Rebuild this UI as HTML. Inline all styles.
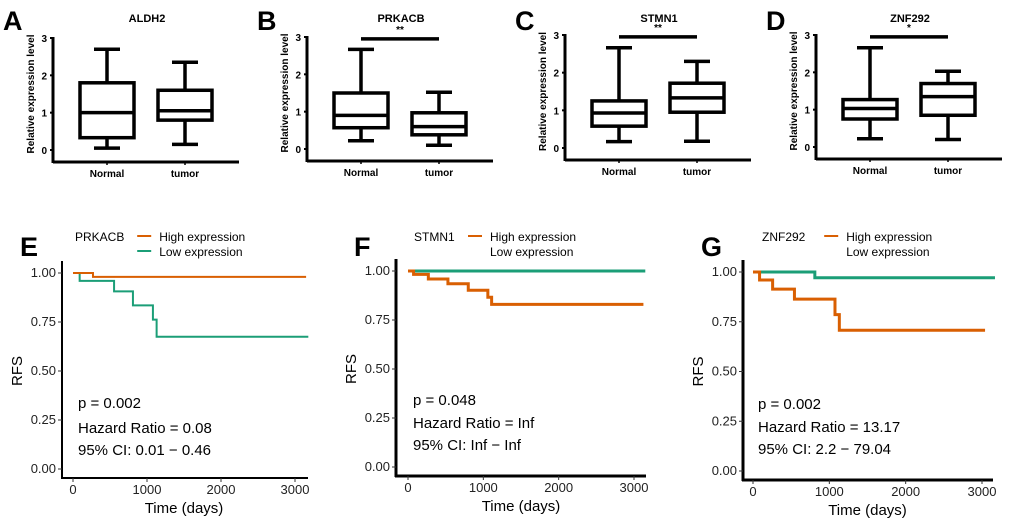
<!DOCTYPE html>
<html><head><meta charset="utf-8">
<style>
html,body{margin:0;padding:0;background:#fff;}
svg{display:block;font-family:"Liberation Sans",Arial,sans-serif;}
</style></head>
<body>
<svg id="fig" width="1010" height="523" viewBox="0 0 1010 523" xmlns="http://www.w3.org/2000/svg"></svg>
<script>
// ---- Box plot data ----
const boxGenes = ["ALDH2","PRKACB","STMN1","ZNF292"];
const boxLetters = ["A","B","C","D"];
const boxGroups = ["Normal","tumor"];
const boxSig = ["","**","**","*"];
// [min, q1, median, q3, max]
const normalStats = [[0.05,0.33,1.0,1.8,2.7],[0.22,0.57,0.9,1.5,2.67],[0.17,0.58,0.93,1.25,2.66],[0.22,0.75,1.03,1.27,2.66]];
const tumorStats = [[0.15,0.8,1.05,1.6,2.35],[0.1,0.38,0.6,0.97,1.52],[0.18,0.95,1.33,1.72,2.3],[0.2,0.85,1.35,1.7,2.03]];
const boxTicks = [0,1,2,3];

// ---- KM data ----
const kmGenes = ["PRKACB","STMN1","ZNF292"];
const kmLetters = ["E","F","G"];
const highTimes = [[0,270,3150],[0,74,270,530,800,1060,1110,3125],[0,86,257,543,1074,1131,3040]];
const highSurv = [[1,0.98,0.98],[1,0.983,0.959,0.935,0.902,0.866,0.83,0.83],[1,0.96,0.914,0.864,0.786,0.707,0.707]];
const lowTimes = [[0,90,555,810,1080,1130,3180],[0,3150],[0,810,3170]];
const lowSurv = [[1,0.96,0.906,0.835,0.762,0.675,0.675],[1,1],[1,0.971,0.971]];
const kmP = ["p = 0.002","p = 0.048","p = 0.002"];
const kmHR = ["Hazard Ratio = 0.08","Hazard Ratio = Inf","Hazard Ratio = 13.17"];
const kmCI = ["95% CI: 0.01 \u2212 0.46","95% CI: Inf \u2212 Inf","95% CI: 2.2 \u2212 79.04"];
const kmYTicks = [0,0.25,0.5,0.75,1.0];
const kmYLabels = ["0.00","0.25","0.50","0.75","1.00"];
const kmXTicks = [0,1000,2000,3000];

const NS="http://www.w3.org/2000/svg";
const svg=document.getElementById('fig');
function mk(tag,attrs,parent){const e=document.createElementNS(NS,tag);for(const k in attrs)e.setAttribute(k,attrs[k]);(parent||svg).appendChild(e);return e;}
function txt(s,attrs,parent){const e=mk('text',attrs,parent);e.textContent=s;return e;}

// Box panels layout
const boxAxisX=[53,307,565,816];
const boxY3=[38,37,35,35], boxY0=[150,149,148,147];
boxGenes.forEach((g,i)=>{
  const grp=mk('g',{});
  
  
  const ax=boxAxisX[i];
  const y=v=>boxY0[i]+(boxY3[i]-boxY0[i])*v/3;
  const lt=txt(boxLetters[i],{x:ax-50,y:30,'font-size':27,'font-weight':'bold'},grp);
  
  const tt=txt(g,{x:ax+94,y:22,'font-size':11,'font-weight':'bold','text-anchor':'middle'},grp);
  
  const yl=txt('Relative expression level',{x:0,y:0,'font-size':10,'font-weight':'bold','text-anchor':'middle',transform:`translate(${ax-19},${(boxY0[i]+boxY3[i])/2}) rotate(-90)`},grp);
  
  mk('line',{x1:ax,y1:boxY3[i]-1,x2:ax,y2:boxY0[i]+13,stroke:'#000','stroke-width':3},grp);
  mk('line',{x1:ax,y1:boxY0[i]+12,x2:ax+186,y2:boxY0[i]+12,stroke:'#000','stroke-width':3},grp);
  boxTicks.forEach(t=>{
    mk('line',{x1:ax-3,y1:y(t),x2:ax,y2:y(t),stroke:'#000','stroke-width':2},grp);
    const tl=txt(String(t),{x:ax-6,y:y(t)+4,'font-size':10,'font-weight':'bold','text-anchor':'end'},grp);
    
  });
  const centers=[ax+54,ax+132];
  [normalStats[i],tumorStats[i]].forEach((s,j)=>{
    const cx=centers[j],hw=27;
    const b=mk('g',{},grp);
    
    
    const st={stroke:'#000','stroke-width':3.5,fill:'none'};
    mk('line',Object.assign({x1:cx,y1:y(s[0]),x2:cx,y2:y(s[1])},st),b);
    mk('line',Object.assign({x1:cx,y1:y(s[3]),x2:cx,y2:y(s[4])},st),b);
    mk('line',Object.assign({x1:cx-13,y1:y(s[0]),x2:cx+13,y2:y(s[0])},st),b);
    mk('line',Object.assign({x1:cx-13,y1:y(s[4]),x2:cx+13,y2:y(s[4])},st),b);
    mk('rect',Object.assign({x:cx-hw,y:y(s[3]),width:2*hw,height:y(s[1])-y(s[3])},st),b);
    mk('line',Object.assign({x1:cx-hw,y1:y(s[2]),x2:cx+hw,y2:y(s[2])},st),b);
    mk('line',{x1:cx,y1:boxY0[i]+12,x2:cx,y2:boxY0[i]+15,stroke:'#000','stroke-width':1.5},grp);
    const xl=txt(boxGroups[j],{x:cx,y:boxY0[i]+27,'font-size':10,'font-weight':'bold','text-anchor':'middle'},grp);
    
  });
  if(boxSig[i]){
    mk('line',{x1:centers[0],y1:y(2.95),x2:centers[1],y2:y(2.95),stroke:'#000','stroke-width':3.5},grp);
    const sg=txt(boxSig[i],{x:(centers[0]+centers[1])/2,y:y(2.95)-6,'font-size':10,'font-weight':'bold','text-anchor':'middle'},grp);
    
  }
});

// KM panels layout
const kmAxisX=[62,396,743], kmX0=[73,408,753], kmX3000=[295,634,982];
const kmY1=[273,271,272], kmY0=[469,467,471], kmRight=[308,646,993];
const annY=[[408,433,455],[405,428,450],[409,432,454]];
const legX=[75,414,762];
const lineW=[2,3,3];
const HIGH='#d95f02', LOW='#1b9e77';
kmGenes.forEach((g,i)=>{
  const grp=mk('g',{});
  
  
  const X=t=>kmX0[i]+(kmX3000[i]-kmX0[i])*t/3000;
  const Y=v=>kmY0[i]+(kmY1[i]-kmY0[i])*v;
  const ax=kmAxisX[i], base=kmY0[i]+9;
  const lt=txt(kmLetters[i],{x:ax-42,y:256,'font-size':27,'font-weight':'bold'},grp);
  
  // legend
  const lx=legX[i];
  const lg=mk('g',{},grp);
  
  txt(g,{x:lx,y:241,'font-size':12},lg);
  const lo=g.length*8.2+13;
  mk('line',{x1:lx+lo,y1:236,x2:lx+lo+14,y2:236,stroke:HIGH,'stroke-width':2},lg);
  const he=txt('High expression',{x:lx+lo+22,y:241,'font-size':12},lg);
  
  if(i===0) mk('line',{x1:lx+lo,y1:251,x2:lx+lo+14,y2:251,stroke:LOW,'stroke-width':2},lg);
  const le=txt('Low expression',{x:lx+lo+22,y:256,'font-size':12},lg);
  
  // axes
  mk('line',{x1:ax,y1:kmY1[i]-12,x2:ax,y2:base+1,stroke:'#000','stroke-width':lineW[i]},grp);
  mk('line',{x1:ax-1,y1:base,x2:kmRight[i],y2:base,stroke:'#000','stroke-width':lineW[i]},grp);
  kmYTicks.forEach((t,k)=>{
    mk('line',{x1:ax-4,y1:Y(t),x2:ax,y2:Y(t),stroke:'#333','stroke-width':1},grp);
    const tl=txt(kmYLabels[k],{x:ax-6,y:Y(t)+4,'font-size':13,'text-anchor':'end',fill:'#222'},grp);
    
  });
  kmXTicks.forEach(t=>{
    mk('line',{x1:X(t),y1:base,x2:X(t),y2:base+4,stroke:'#333','stroke-width':1},grp);
    const tl=txt(String(t),{x:X(t),y:base+16,'font-size':13,'text-anchor':'middle',fill:'#222'},grp);
    
  });
  const xt=txt('Time (days)',{x:(kmX0[i]+kmX3000[i])/2,y:base+35,'font-size':15,'text-anchor':'middle'},grp);
  
  const yt=txt('RFS',{x:0,y:0,'font-size':15,'text-anchor':'middle',transform:`translate(${ax-40},${(kmY0[i]+kmY1[i])/2}) rotate(-90)`},grp);
  
  // curves
  function step(ts,vs){let d='M'+X(ts[0])+','+Y(vs[0]);for(let k=1;k<ts.length;k++){d+=' H'+X(ts[k])+' V'+Y(vs[k]);}return d;}
  const lowP=mk('path',{d:step(lowTimes[i],lowSurv[i]),fill:'none',stroke:LOW,'stroke-width':lineW[i]},grp);
  
  const hiP=mk('path',{d:step(highTimes[i],highSurv[i]),fill:'none',stroke:HIGH,'stroke-width':lineW[i]},grp);
  
  // annotations
  const a1=txt(kmP[i],{x:kmX0[i]+5,y:annY[i][0],'font-size':15},grp);
  
  const a2=txt(kmHR[i],{x:kmX0[i]+5,y:annY[i][1],'font-size':15},grp);
  
  const a3=txt(kmCI[i],{x:kmX0[i]+5,y:annY[i][2],'font-size':15},grp);
  
});
</script>
</body></html>
